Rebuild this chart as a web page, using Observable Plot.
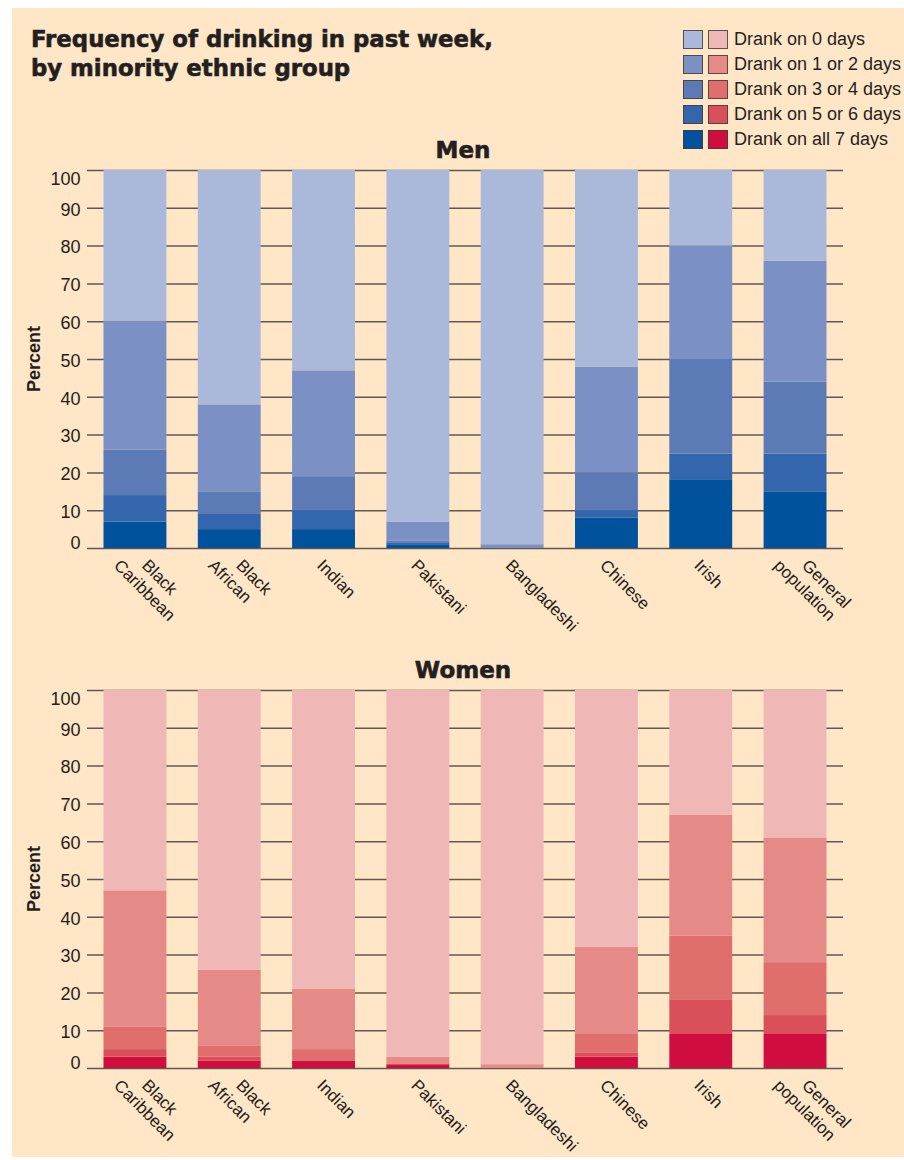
<!DOCTYPE html>
<html>
<head>
<meta charset="utf-8">
<script src="https://cdn.jsdelivr.net/npm/d3@7"></script>
<script src="https://cdn.jsdelivr.net/npm/@observablehq/plot@0.6"></script>
<style>
  html, body { margin: 0; padding: 0; background: #ffffff; }
  body { position: relative; width: 904px; height: 1160px; overflow: hidden; font-family: "Liberation Sans", Arial, sans-serif; color: #231f20; }
  #bg { position: absolute; left: 12px; top: 8px; right: 0; bottom: 3px; background: #fee6c7; }
  .abs { position: absolute; }
  #title { left: 31px; top: 25px; font-family: "DejaVu Sans", sans-serif; font-weight: bold; font-size: 22.8px; line-height: 28.5px; color: #231f20; white-space: nowrap; -webkit-text-stroke: 0.6px #231f20; }
  .panelTitle { font-family: "DejaVu Sans", sans-serif; font-weight: bold; font-size: 23px; line-height: 23px; transform: translateX(-50%); white-space: nowrap; -webkit-text-stroke: 0.6px #231f20; }
  .ylab { font-weight: bold; font-size: 18px; transform: translate(-50%, -50%) rotate(-90deg); white-space: nowrap; }
  .legRow { position: absolute; left: 683px; height: 19px; display: flex; align-items: center; }
  .sw { width: 20px; height: 19px; box-sizing: border-box; border: 1px solid rgba(70,60,55,0.85); margin-right: 5px; }
  .legText { font-size: 18px; line-height: 19px; margin-left: 1px; white-space: nowrap; }
  svg { position: absolute; left: 0; }
</style>
</head>
<body>
<div id="bg"></div>
<div id="title" class="abs">Frequency of drinking in past week,<br>by minority ethnic group</div>
<div id="legend"></div>
<div class="abs panelTitle" style="left:463px; top:138.6px;">Men</div>
<div class="abs panelTitle" style="left:463px; top:658.6px;">Women</div>
<div class="abs ylab" style="left:34px; top:359px;">Percent</div>
<div class="abs ylab" style="left:34px; top:879px;">Percent</div>
<div id="men"></div>
<div id="women"></div>
<script>
// ---- data ----
const groups = ["Black Caribbean", "Black African", "Indian", "Pakistani", "Bangladeshi", "Chinese", "Irish", "General population"];
const labelLine1 = ["Black", "Black", "Indian", "Pakistani", "Bangladeshi", "Chinese", "Irish", "General"];
const labelLine2 = ["Caribbean", "African", "", "", "", "", "", "population"];
// stack order: bottom first
const categories = ["Drank on all 7 days", "Drank on 5 or 6 days", "Drank on 3 or 4 days", "Drank on 1 or 2 days", "Drank on 0 days"];
const legendOrder = ["Drank on 0 days", "Drank on 1 or 2 days", "Drank on 3 or 4 days", "Drank on 5 or 6 days", "Drank on all 7 days"];

const menAll7 = [7, 5, 5, 1, 0, 8, 18, 15];
const men5or6 = [7, 4, 5, 0.5, 0, 2, 7, 10];
const men3or4 = [12, 6, 9, 0.5, 0, 10, 25, 19];
const men1or2 = [34, 23, 28, 5, 1, 28, 30, 32];
const men0 = [40, 62, 53, 93, 99, 52, 20, 24];

const womenAll7 = [3, 2, 2, 1, 0, 3, 9, 9];
const women5or6 = [2, 1, 0, 0, 0, 1, 9, 5];
const women3or4 = [6, 3, 3, 0, 0, 5, 17, 14];
const women1or2 = [36, 20, 16, 2, 1, 23, 32, 33];
const women0 = [53, 74, 79, 97, 99, 68, 33, 39];

const menColors = ["#01529c", "#3366ac", "#5b7ab6", "#7b91c5", "#aab8da"];
const womenColors = ["#cf0e3f", "#d94f5a", "#e06e6d", "#e58a87", "#efb8b6"];

const yTicks = [0, 10, 20, 30, 40, 50, 60, 70, 80, 90, 100];
const yTicksMid = [10, 20, 30, 40, 50, 60, 70, 80, 90];

// ---- legend ----
const legend = document.getElementById("legend");
legendOrder.forEach((c, k) => {
  const ci = categories.indexOf(c);
  const row = document.createElement("div");
  row.className = "legRow";
  row.style.top = (30 + 25 * k) + "px";
  row.innerHTML = `<div class="sw" style="background:${menColors[ci]}"></div><div class="sw" style="background:${womenColors[ci]}"></div><div class="legText">${c}</div>`;
  legend.appendChild(row);
});

// ---- charts ----
function chart(series, colors) {
  const data = [];
  categories.forEach((c, k) => groups.forEach((g, i) => data.push({group: g, cat: c, value: series[k][i]})));
  const font = "Liberation Sans, Arial, sans-serif";
  return Plot.plot({
    width: 904,
    height: 480,
    marginLeft: 87,
    marginRight: 61,
    marginTop: 10,
    marginBottom: 92,
    style: {background: "transparent", fontFamily: font, color: "#231f20", overflow: "visible"},
    x: {domain: groups, paddingInner: 0.333, paddingOuter: 0.175, round: false, axis: null},
    y: {domain: [0, 100], axis: null},
    color: {domain: categories, range: colors},
    marks: [
      Plot.ruleY(yTicks, {stroke: "#5f5750", strokeWidth: 1.5}),
      Plot.barY(data, {x: "group", y: "value", fill: "cat"}),
      Plot.text(yTicksMid, {y: d => d, text: d => String(d), frameAnchor: "left", textAnchor: "end", dx: -7, dy: 1.5, fontSize: 18, fill: "#231f20"}),
      Plot.text([100], {y: d => d, text: d => String(d), frameAnchor: "left", textAnchor: "end", dx: -7, dy: 8.5, fontSize: 18, fill: "#231f20"}),
      Plot.text([0], {y: d => d, text: d => String(d), frameAnchor: "left", textAnchor: "end", dx: -7, dy: -5, fontSize: 18, fill: "#231f20"}),
      // single-line category labels
      Plot.text(groups, {filter: (d, i) => labelLine2[i] === "", x: d => d, text: d => labelLine1[groups.indexOf(d)], frameAnchor: "bottom", rotate: 45, textAnchor: "start", lineAnchor: "bottom", dx: -8, dy: 18, fontSize: 17, fill: "#231f20"}),
      // two-line labels: first line
      Plot.text(groups, {filter: (d, i) => labelLine2[i] !== "", x: d => d, text: d => labelLine1[groups.indexOf(d)], frameAnchor: "bottom", rotate: 45, textAnchor: "start", lineAnchor: "bottom", dx: 5.5, dy: 18, fontSize: 17, fill: "#231f20"}),
      // two-line labels: second line
      Plot.text(groups, {filter: (d, i) => labelLine2[i] !== "", x: d => d, text: d => labelLine2[groups.indexOf(d)], frameAnchor: "bottom", rotate: 45, textAnchor: "start", lineAnchor: "bottom", dx: -22.5, dy: 18, fontSize: 17, fill: "#231f20"})
    ]
  });
}

const menSvg = chart([menAll7, men5or6, men3or4, men1or2, men0], menColors);
menSvg.style.top = "160px";
document.getElementById("men").appendChild(menSvg);

const womenSvg = chart([womenAll7, women5or6, women3or4, women1or2, women0], womenColors);
womenSvg.style.top = "680px";
document.getElementById("women").appendChild(womenSvg);
</script>
</body>
</html>
